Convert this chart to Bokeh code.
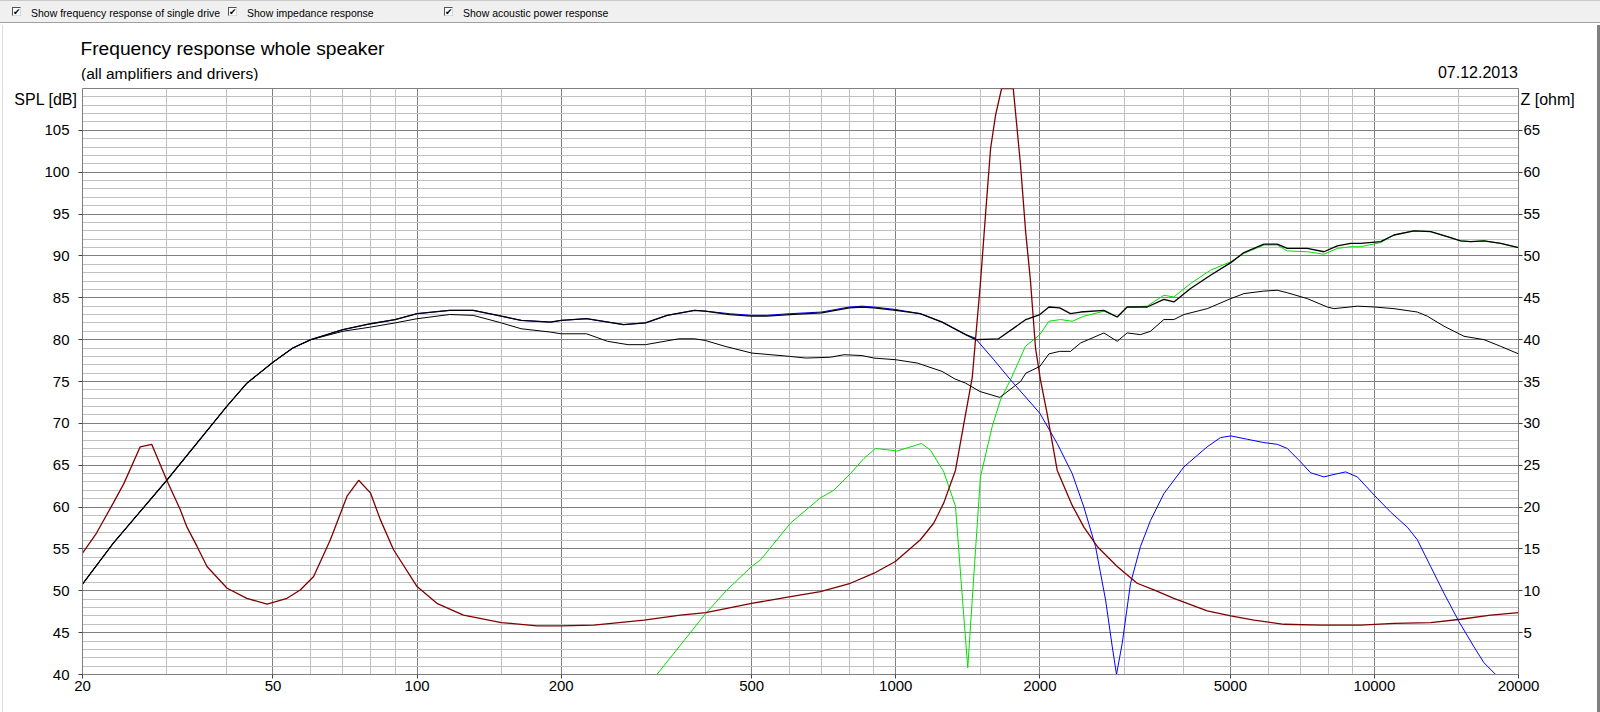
from bokeh.embed import file_html
from bokeh.layouts import column, row
from bokeh.models import Div, FixedTicker, LinearAxis, Range1d
from bokeh.plotting import figure
from bokeh.resources import INLINE

# frequency axis (Hz)
freq_ticks = [20, 50, 100, 200, 500, 1000, 2000, 5000, 10000, 20000]
freq_tick_labels = ["20", "50", "100", "200", "500", "1000", "2000", "5000", "10000", "20000"]
freq_minor = [30, 40, 60, 70, 80, 90, 150, 300, 400, 600, 700, 800, 900, 1500,
              3000, 4000, 6000, 7000, 8000, 9000, 15000]
spl_ticks = [40, 45, 50, 55, 60, 65, 70, 75, 80, 85, 90, 95, 100, 105]
spl_minor = [v for v in range(41, 110) if v % 5]
z_ticks = [5, 10, 15, 20, 25, 30, 35, 40, 45, 50, 55, 60, 65]

title_text = "Frequency response whole speaker"
subtitle_text = "(all amplifiers and drivers)"
date_text = "07.12.2013"
spl_label = "SPL [dB]"
z_label = "Z [ohm]"
options = ["Show frequency response of single drive", "Show impedance response",
           "Show acoustic power response"]

# whole speaker, on axis (upper black)
f_total = [20, 23.2, 30, 40, 44.1, 50, 55, 60, 70, 80, 90, 100, 117, 131, 150, 165, 190, 200,
           226, 270, 300, 333, 380, 400, 450, 500, 537, 600, 700, 800, 850, 900, 1000, 1125,
           1250, 1400, 1470, 1640, 1870, 2000, 2090, 2200, 2318, 2433, 2722, 2902, 3044, 3352,
           3632, 3811, 4130, 4546, 5012, 5338, 5878, 6266, 6577, 7240, 7844, 8366, 8921, 9360,
           10304, 10988, 12097, 13108, 14204, 15143, 15889, 16939, 18357, 20000]
spl_total = [50.8, 55.7, 63.2, 72.0, 74.8, 77.3, 79.0, 80.0, 81.2, 81.9, 82.4, 83.1, 83.5, 83.5,
             82.8, 82.3, 82.1, 82.3, 82.5, 81.8, 82.0, 82.9, 83.5, 83.4, 83.0, 82.8, 82.8, 83.0,
             83.2, 83.8, 83.9, 83.8, 83.5, 83.1, 82.1, 80.6, 80.0, 80.1, 82.4, 83.0, 83.9, 83.8,
             83.1, 83.3, 83.5, 82.7, 83.9, 83.9, 84.8, 84.5, 86.1, 87.7, 89.2, 90.4, 91.4, 91.4,
             90.9, 90.9, 90.5, 91.2, 91.5, 91.5, 91.7, 92.5, 93.0, 92.9, 92.3, 91.8, 91.7, 91.8,
             91.5, 91.0]

# acoustic power response (lower black)
f_power = [20, 23.2, 30, 40, 44.1, 50, 55, 60, 70, 80, 90, 100, 117, 131, 150, 165, 190, 200,
           226, 250, 276, 300, 352, 380, 400, 440, 500, 600, 650, 730, 780, 850, 900, 1000,
           1110, 1250, 1330, 1400, 1500, 1650, 1823, 1870, 2000, 2090, 2200, 2318, 2433, 2722,
           2902, 3044, 3246, 3406, 3632, 3811, 4000, 4474, 5012, 5338, 5878, 6266, 6577, 7240,
           7972, 8232, 9212, 10000, 10988, 12292, 12900, 13977, 15388, 16939, 18357, 20000]
spl_power = [50.8, 55.7, 63.2, 72.0, 74.8, 77.3, 79.0, 80.0, 81.0, 81.5, 82.0, 82.5, 83.0, 82.9,
             82.0, 81.3, 80.9, 80.7, 80.7, 79.8, 79.4, 79.4, 80.1, 80.1, 79.9, 79.2, 78.4, 78.0,
             77.8, 77.9, 78.2, 78.1, 77.8, 77.6, 77.2, 76.2, 75.3, 74.8, 73.8, 73.1, 75.0, 76.0,
             76.8, 78.3, 78.6, 78.6, 79.6, 80.8, 79.8, 80.8, 80.6, 81.0, 82.4, 82.4, 83.0, 83.7,
             84.9, 85.5, 85.8, 85.9, 85.6, 84.9, 83.9, 83.7, 84.0, 83.9, 83.7, 83.3, 82.8, 81.6,
             80.4, 80.0, 79.2, 78.3]

# woofer (blue)
f_woofer = [20, 23.2, 30, 40, 44.1, 50, 55, 60, 70, 80, 90, 100, 117, 131, 150, 165, 190, 200,
            226, 270, 300, 333, 380, 400, 450, 500, 537, 600, 700, 800, 850, 900, 1000, 1125,
            1250, 1400, 1464, 1603, 1737, 2000, 2174, 2337, 2472, 2614, 2744, 2834, 2892, 2972,
            3094, 3246, 3406, 3632, 4000, 4474, 4770, 5012, 5426, 5878, 6266, 6577, 7010, 7356,
            7844, 8232, 8708, 9212, 10000, 10812, 11716, 12292, 13108, 13977, 15024, 16145,
            16939, 17920, 20000]
spl_woofer = [50.8, 55.7, 63.2, 72.0, 74.8, 77.3, 79.0, 80.0, 81.2, 81.9, 82.4, 83.1, 83.5, 83.5,
              82.8, 82.3, 82.1, 82.3, 82.5, 81.8, 82.0, 82.9, 83.5, 83.4, 83.1, 82.9, 82.9, 83.1,
              83.3, 83.9, 84.0, 83.9, 83.6, 83.1, 82.1, 80.6, 80.2, 77.6, 75.2, 71.2, 67.6, 64.0,
              60.0, 55.3, 48.9, 43.3, 40.0, 43.7, 50.9, 55.3, 58.4, 61.6, 64.8, 67.2, 68.3, 68.5,
              68.1, 67.7, 67.5, 67.0, 65.4, 64.1, 63.6, 63.9, 64.2, 63.6, 61.4, 59.4, 57.6, 56.1,
              52.9, 49.7, 46.3, 43.3, 41.4, 40.0, 40.0]

# tweeter (green)
f_tweeter = [20, 317, 401, 444, 500, 522, 603, 696, 742, 804, 858, 907, 1007, 1132, 1182, 1260,
             1333, 1366, 1414, 1468, 1503, 1590, 1655, 1737, 1866, 2000, 2090, 2210, 2337, 2472,
             2722, 2902, 3044, 3352, 3632, 3811, 4130, 4546, 5012, 5338, 5878, 6266, 6577, 7240,
             7844, 8366, 8921, 9360, 10304, 10988, 12097, 13108, 14204, 15143, 15889, 16939,
             18357, 20000]
spl_tweeter = [40.0, 40.0, 47.3, 50.1, 52.9, 53.7, 58.1, 61.1, 62.0, 64.0, 65.8, 67.0, 66.7, 67.6,
               66.8, 64.2, 60.1, 52.0, 40.8, 54.9, 63.6, 69.6, 72.8, 75.2, 79.2, 80.6, 82.2, 82.4,
               82.2, 82.8, 83.4, 82.7, 83.9, 84.0, 85.3, 85.1, 86.7, 88.3, 89.3, 90.3, 91.3, 91.3,
               90.6, 90.5, 90.2, 90.9, 91.1, 91.1, 91.6, 92.5, 93.0, 92.9, 92.3, 91.8, 91.7, 91.8,
               91.5, 91.0]

# impedance (dark red, right axis, ohm)
f_imp = [20, 21.4, 23.2, 24.4, 26.4, 27.9, 30.0, 32.0, 33.0, 34.7, 36.4, 40.1, 44.1, 48.6, 53.5,
         57.0, 60.8, 65.9, 71.4, 75.5, 79.9, 83.8, 89.3, 100, 110, 125, 150, 178, 200, 234, 298,
         355, 401, 500, 603, 696, 804, 901, 998, 1126, 1201, 1260, 1333, 1388, 1445, 1504, 1540,
         1578, 1616, 1664, 1760, 1823, 1868, 1912, 1959, 2006, 2071, 2174, 2337, 2472, 2636,
         2902, 3194, 3462, 3811, 4474, 5012, 5602, 6472, 7720, 9360, 10988, 13108, 15143, 17492,
         20000]
z_imp = [14.5, 16.9, 20.5, 22.8, 27.2, 27.5, 23.2, 19.7, 17.7, 15.3, 12.9, 10.3, 9.1, 8.4, 9.1,
         10.1, 11.7, 16.1, 21.3, 23.2, 21.7, 18.5, 14.9, 10.5, 8.5, 7.1, 6.2, 5.8, 5.8, 5.9, 6.5,
         7.1, 7.4, 8.5, 9.3, 9.9, 10.9, 12.1, 13.5, 16.1, 18.1, 20.5, 24.4, 30.0, 35.5, 47.0, 54.9,
         62.8, 66.8, 70.0, 70.0, 60.8, 52.9, 47.0, 39.0, 35.2, 31.2, 24.4, 20.2, 17.6, 15.3, 12.9,
         10.9, 10.1, 9.1, 7.6, 7.0, 6.5, 6.0, 5.9, 5.9, 6.1, 6.2, 6.6, 7.1, 7.4]

FONT = "Liberation Sans"


def pos(left, top, extra=""):
    return 'position:absolute;left:%spx;top:%spx;white-space:nowrap;%s' % (left, top, extra)


def checkbox(left, label):
    box = ('<span style="%s">&#10004;</span>'
           % pos(left, 7, "width:9px;height:9px;border:1px solid;"
                          "border-color:#505050 #d8d8d8 #d8d8d8 #505050;background:#fff;"
                          "font-family:'DejaVu Sans';font-size:9px;font-weight:bold;"
                          "line-height:9px;text-align:center;color:#000"))
    txt = '<span style="%s">%s</span>' % (pos(left + 19, 7.5, "line-height:11px"), label)
    return box + txt


# window strip with the check boxes, then the chart header
header_html = (
    '<div style="position:relative;width:1600px;height:80px;margin:0;background:#fff;'
    "font-family:'%s';color:#000\">" % FONT
    + '<div style="%s"></div>' % pos(0, 0, "width:1600px;height:23px;background:#f0f0f0;"
                                           "border-top:1px solid #c8c8c8;"
                                           "border-bottom:1px solid #a0a0a0")
    + '<div style="%s"></div>' % pos(2, 25, "width:1px;height:55px;background:#dcdcdc")
    + '<div style="%s"></div>' % pos(1597, 25, "width:3px;height:55px;background:#808080")
    + '<div style="font-size:10.5px">'
    + checkbox(12, options[0]) + checkbox(228, options[1]) + checkbox(444, options[2])
    + '</div>'
    + '<span style="%s">%s</span>' % (pos(80.5, 39, "font-size:19.2px;line-height:19px"),
                                      title_text)
    + '<span style="%s">%s</span>' % (pos(81, 65.5, "font-size:15.5px;line-height:15px"),
                                      subtitle_text)
    + '<span style="position:absolute;right:82px;top:64.5px;font-size:16px;line-height:15px;'
      'white-space:nowrap">%s</span>' % date_text
    + '</div>')
header = Div(text=header_html, width=1600, height=80, margin=0)

# window edges beside the chart
left_edge = Div(text='<div style="margin-left:2px;width:1px;height:632px;background:#dcdcdc">'
                     '</div>', width=3, height=632, margin=0)
right_edge = Div(text='<div style="width:3px;height:632px;background:#808080"></div>',
                 width=3, height=632, margin=0)

p = figure(x_axis_type="log", x_range=(20, 20000), y_range=(40, 110),
           frame_width=1436, frame_height=586,
           min_border_left=79, min_border_right=79, min_border_top=8, min_border_bottom=38,
           background_fill_color="white", border_fill_color="white",
           outline_line_color="#808080", output_backend="svg", toolbar_location=None)
p.margin = 0

p.extra_y_ranges = {"z": Range1d(0, 70)}

xaxis = p.xaxis[0]
yaxis = p.yaxis[0]
xaxis.ticker = FixedTicker(ticks=freq_ticks, minor_ticks=freq_minor)
xaxis.major_label_overrides = {t: s for t, s in zip(freq_ticks, freq_tick_labels)}
yaxis.ticker = FixedTicker(ticks=spl_ticks, minor_ticks=spl_minor)

zaxis = LinearAxis(y_range_name="z", ticker=FixedTicker(ticks=z_ticks))
p.add_layout(zaxis, "right")

for ax in [xaxis, yaxis, zaxis]:
    ax.axis_line_color = "#808080"
    ax.major_tick_line_color = "#404040"
    ax.major_tick_in = 0
    ax.major_tick_out = 4
    ax.minor_tick_line_color = None
    ax.major_label_text_font = FONT
    ax.major_label_text_font_size = "15px"
    ax.major_label_text_color = "black"
xaxis.major_label_standoff = 2
yaxis.major_label_standoff = 9
zaxis.major_label_standoff = 1

# unit captions beside the top of the frame, as label-only outer axes
spl_cap = LinearAxis(ticker=FixedTicker(ticks=[108.7]),
                     major_label_overrides={108.7: spl_label})
z_cap = LinearAxis(y_range_name="z", ticker=FixedTicker(ticks=[68.7]),
                   major_label_overrides={68.7: z_label})
for ax, standoff in [(spl_cap, -36), (z_cap, -23)]:
    ax.axis_line_color = None
    ax.major_tick_line_color = None
    ax.minor_tick_line_color = None
    ax.major_tick_in = 0
    ax.major_tick_out = 0
    ax.major_label_standoff = standoff
    ax.major_label_text_font = FONT
    ax.major_label_text_font_size = "16px"
    ax.major_label_text_color = "black"
p.add_layout(spl_cap, "left")
p.add_layout(z_cap, "right")

for g in [p.xgrid, p.ygrid]:
    g.grid_line_color = "#808080"
    g.minor_grid_line_color = "#c0c0c0"

p.line(f_tweeter, spl_tweeter, line_color="#00e000", line_width=1)
p.line(f_woofer, spl_woofer, line_color="#0000ff", line_width=1)
p.line(f_imp, z_imp, y_range_name="z", line_color="#800000", line_width=1.3)
p.line(f_power, spl_power, line_color="black", line_width=1)
p.line(f_total, spl_total, line_color="black", line_width=1.3)

layout = column(header, row(left_edge, p, right_edge, spacing=0), spacing=0)
open("out.html", "w").write(file_html(layout, INLINE))
